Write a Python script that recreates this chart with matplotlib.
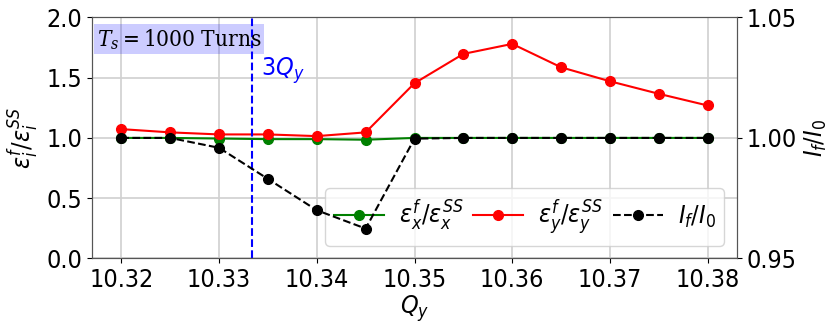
import numpy as np
import matplotlib
matplotlib.use("Agg")
import matplotlib.pyplot as plt
from matplotlib.lines import Line2D

plt.rcParams['font.family'] = ['DejaVu Sans']
plt.rcParams['font.stretch'] = 'condensed'
plt.rcParams['mathtext.fontset'] = 'custom'
plt.rcParams['mathtext.rm'] = 'DejaVu Sans:stretch=condensed'
plt.rcParams['mathtext.it'] = 'DejaVu Sans:style=italic:stretch=condensed'
plt.rcParams['mathtext.bf'] = 'DejaVu Sans:weight=bold:stretch=condensed'
plt.rcParams['axes.edgecolor'] = '#555555'

# tune scan
Qy = [10.32, 10.325, 10.33, 10.335, 10.34, 10.345, 10.35,
      10.355, 10.36, 10.365, 10.37, 10.375, 10.38]
emit_x = [1.0, 1.0, 0.995, 0.99, 0.99, 0.985, 1.0,
          1.0, 1.0, 1.0, 1.0, 1.0, 1.0]
emit_y = [1.073, 1.046, 1.029, 1.029, 1.015, 1.046, 1.454,
          1.697, 1.78, 1.586, 1.47, 1.366, 1.269]
intensity = [1.0, 1.0, 0.9959, 0.983, 0.970, 0.9624, 0.9997,
             1.0, 1.0, 1.0, 1.0, 1.0, 1.0]
res_3Qy = 31 / 3

fs = 18

fig, ax1 = plt.subplots(figsize=(8.29, 3.28), dpi=100)
fig.subplots_adjust(left=0.111, right=0.889, bottom=0.212, top=0.947)

l1, = ax1.plot(Qy, emit_x, 'o-', color='g', ms=7, lw=1.5)
l2, = ax1.plot(Qy, emit_y, 'o-', color='r', ms=7, lw=1.5)
ax1.axvline(res_3Qy, color='b', ls='--', lw=1.5)
ax1.text(res_3Qy + 0.001, 1.56, r'$3Q_y$', color='b', fontsize=fs, va='center')
ax1.text(0.007, 0.96, r'$T_s = 1000$ Turns', transform=ax1.transAxes,
         fontsize=16.2, family='DejaVu Serif', math_fontfamily='dejavuserif',
         va='top', ha='left',
         bbox=dict(facecolor='blue', alpha=0.2, edgecolor='none', pad=2))
ax1.set_ylim(0, 2.0)
ax1.set_yticks([0, 0.5, 1.0, 1.5, 2.0])
ax1.set_xticks([10.32, 10.33, 10.34, 10.35, 10.36, 10.37, 10.38])
ax1.grid(True, color='#d0d0d0', lw=1.2)
ax1.tick_params(labelsize=fs)
ax1.set_xlabel(r'$Q_y$', fontsize=fs, labelpad=1)
ax1.set_ylabel(r'$\varepsilon_i^f/\varepsilon_i^{SS}$', fontsize=fs, labelpad=4)

ax2 = ax1.twinx()
l3, = ax2.plot(Qy, intensity, 'o--', color='k', ms=7, lw=1.5)
ax2.set_ylim(0.95, 1.05)
ax2.set_yticks([0.95, 1.0, 1.05])
ax2.tick_params(labelsize=fs)
ax2.set_ylabel(r'$I_f/I_0$', fontsize=fs)

ax1.legend([l1, l2, l3],
           [r'$\varepsilon_x^f/\varepsilon_x^{SS}$',
            r'$\varepsilon_y^f/\varepsilon_y^{SS}$',
            r'$I_f/I_0$'],
           loc='lower right', ncol=3, fontsize=fs,
           handlelength=2.0, columnspacing=0.4, handletextpad=0.6,
           borderpad=0.35)

fig.savefig('out.png', dpi=100)
